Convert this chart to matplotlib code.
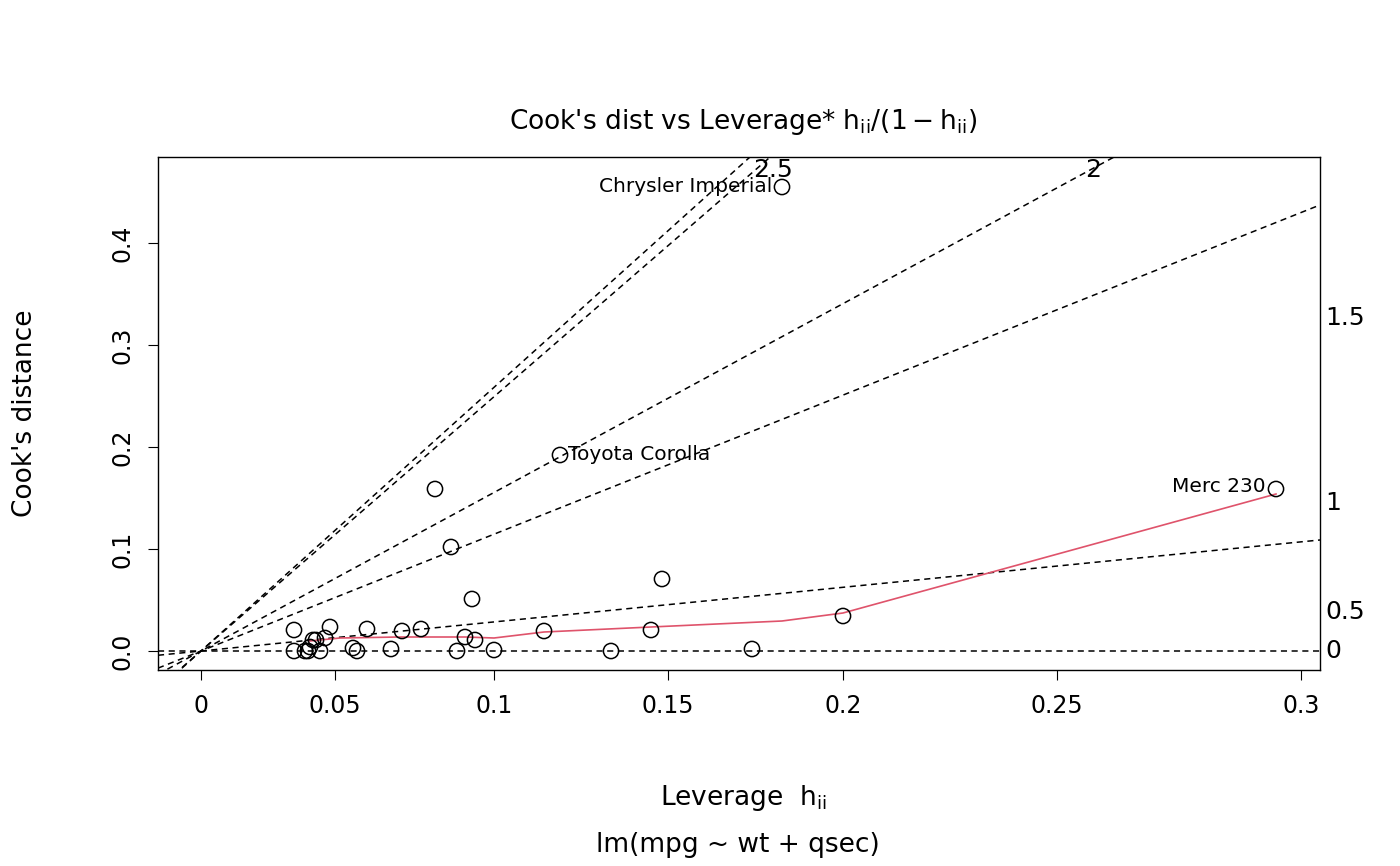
import matplotlib
matplotlib.use("Agg")
import matplotlib.pyplot as plt
import numpy as np

# data in display units (x: leverage-scaled axis, y: Cook's distance)
px_x = [294,294,305,308,310,313,316,320,325,330,353,357,367,391,402,421,435,451,457,465,472,475,494,544,560,611,651,662,752,782,843,1276]
px_y = [630,651,651,651,647,640,640,651,638,627,648,651,629,649,631,629,489,547,651,637,599,640,650,631,455,651,630,579,649,187,616,489]
x = (np.array(px_x) - 201) / 3667
y = (651 - np.array(px_y)) / 1020
smooth_px_x = [310,340,400,465,494,544,651,782,843,1276]
smooth_px_y = [641,638,637,637,638,632,627,621,613,494]
sx = (np.array(smooth_px_x) - 201) / 3667
sy = (651 - np.array(smooth_px_y)) / 1020
tick_pos = (np.array([201,335,494,668,843,1057,1301]) - 201) / 3667
tick_labels = ["0","0.05","0.1","0.15","0.2","0.25","0.3"]
slopes = [0.0, 0.3567, 1.433, 1.945, 3.12, 3.235]

fig = plt.figure(figsize=(14, 8.66), dpi=100)
ax = fig.add_axes([158/1400, 1-670/866, 1162/1400, 513/866])
xlim = ((158-201)/3667, (1320-201)/3667)
ylim = ((651-670)/1020, (651-157)/1020)
xx = np.array(xlim)
for s in slopes:
    ax.plot(xx, s*xx, 'k--', lw=1.1, dashes=(4, 3))
ax.scatter(x, y, s=120, facecolors='none', edgecolors='black', linewidths=1.1, zorder=3)
ax.plot(sx, sy, color='#DF536B', lw=1.2)
ax.set_xlim(*xlim); ax.set_ylim(*ylim)
ax.set_xticks(tick_pos); ax.set_xticklabels(tick_labels, fontsize=17)
ax.set_yticks([0, 0.1, 0.2, 0.3, 0.4])
ax.set_yticklabels(["0.0","0.1","0.2","0.3","0.4"], fontsize=17, rotation=90, va='center')
ax.tick_params(length=7, pad=10)
for sp in ax.spines.values(): sp.set_linewidth(1)

def dx(p): return (p-201)/3667
def dy(p): return (651-p)/1020
ax.text(dx(1266), dy(487), "Merc 230", ha='right', va='center', fontsize=14.5)
ax.text(dx(772), dy(187), "Chrysler Imperial", ha='right', va='center', fontsize=14.5)
ax.text(dx(568), dy(455), "Toyota Corolla", ha='left', va='center', fontsize=14.5)
ax.text(dx(773), dy(170), "2.5", ha='center', va='center', fontsize=18)
ax.text(dx(1093), dy(170), "2", ha='center', va='center', fontsize=18)
for lab, py in [("1.5",318),("1",503),("0.5",612),("0",651)]:
    ax.text(dx(1325), dy(py), lab, ha='left', va='center', fontsize=18, clip_on=False)

fig.text(743/1400, 1-122/866, r"Cook's dist vs Leverage* $\mathregular{h_{ii}/(1-h_{ii})}$", ha='center', va='center', fontsize=19)
fig.text(743/1400, 1-798/866, r"Leverage  $\mathregular{h_{ii}}$", ha='center', va='center', fontsize=19)
fig.text(738/1400, 1-845/866, "lm(mpg ~ wt + qsec)", ha='center', va='center', fontsize=19)
fig.text(25/1400, 1-413/866, "Cook's distance", ha='center', va='center', rotation=90, fontsize=19)
fig.savefig("out.png", dpi=100)
